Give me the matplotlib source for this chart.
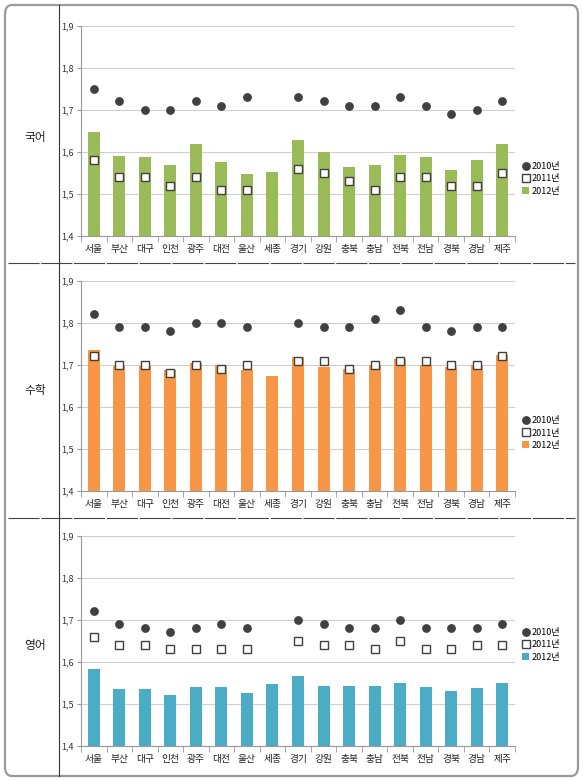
import numpy as np
import matplotlib.pyplot as plt
from matplotlib.patches import FancyBboxPatch
from matplotlib.lines import Line2D
from matplotlib.patches import Patch
from matplotlib.ticker import FuncFormatter, FixedLocator

plt.rcParams['font.family'] = ['Noto Sans CJK KR', 'DejaVu Sans']

regions = ['서울', '부산', '대구', '인천', '광주', '대전', '울산', '세종', '경기',
           '강원', '충북', '충남', '전북', '전남', '경북', '경남', '제주']
subjects = ['국어', '수학', '영어']
years = ['2010년', '2011년', '2012년']

# 세종 has no value for 2010 / 2011
kor_2010 = [1.75, 1.72, 1.70, 1.70, 1.72, 1.71, 1.73, np.nan, 1.73, 1.72, 1.71, 1.71, 1.73, 1.71, 1.69, 1.70, 1.72]
kor_2011 = [1.58, 1.54, 1.54, 1.52, 1.54, 1.51, 1.51, np.nan, 1.56, 1.55, 1.53, 1.51, 1.54, 1.54, 1.52, 1.52, 1.55]
kor_2012 = [1.647, 1.590, 1.588, 1.568, 1.618, 1.576, 1.548, 1.553, 1.628, 1.600, 1.563, 1.569, 1.592, 1.588, 1.557, 1.580, 1.618]

math_2010 = [1.82, 1.79, 1.79, 1.78, 1.80, 1.80, 1.79, np.nan, 1.80, 1.79, 1.79, 1.81, 1.83, 1.79, 1.78, 1.79, 1.79]
math_2011 = [1.72, 1.70, 1.70, 1.68, 1.70, 1.69, 1.70, np.nan, 1.71, 1.71, 1.69, 1.70, 1.71, 1.71, 1.70, 1.70, 1.72]
math_2012 = [1.735, 1.697, 1.697, 1.688, 1.704, 1.699, 1.688, 1.674, 1.718, 1.696, 1.690, 1.700, 1.714, 1.700, 1.694, 1.700, 1.724]

eng_2010 = [1.72, 1.69, 1.68, 1.67, 1.68, 1.69, 1.68, np.nan, 1.70, 1.69, 1.68, 1.68, 1.70, 1.68, 1.68, 1.68, 1.69]
eng_2011 = [1.66, 1.64, 1.64, 1.63, 1.63, 1.63, 1.63, np.nan, 1.65, 1.64, 1.64, 1.63, 1.65, 1.63, 1.63, 1.64, 1.64]
eng_2012 = [1.584, 1.536, 1.536, 1.521, 1.541, 1.541, 1.526, 1.548, 1.567, 1.542, 1.542, 1.542, 1.550, 1.541, 1.531, 1.538, 1.550]

yticks = [1.4, 1.5, 1.6, 1.7, 1.8, 1.9]

panels = [
    (kor_2010, kor_2011, kor_2012, '#9BBB59'),
    (math_2010, math_2011, math_2012, '#F79646'),
    (eng_2010, eng_2011, eng_2012, '#4BACC6'),
]

W, H = 583, 781
fig = plt.figure(figsize=(W / 100, H / 100), dpi=100)

# rounded outer frame
fig.patches.append(FancyBboxPatch((5 / W, 5 / H), 573 / W, 771 / H,
                                  boxstyle='round,pad=0,rounding_size=0.012',
                                  transform=fig.transFigure, fill=False,
                                  edgecolor='#9a9a9a', linewidth=1.6))
# label column divider
fig.add_artist(Line2D([59 / W, 59 / W], [5 / H, 776 / H], transform=fig.transFigure,
                      color='#333333', linewidth=0.8))
# panel dividers
for ypx in [263, 518]:
    fig.add_artist(Line2D([8 / W, 575 / W], [1 - ypx / H, 1 - ypx / H], transform=fig.transFigure,
                          color='#444444', linewidth=0.8, linestyle=(0, (28, 1.5))))

# pixel layout of each panel: axes top, axes bottom, subject label y, legend centre y
layout = [(25.7, 236, 137, 179), (280.7, 491, 390, 433), (535.7, 746, 645, 645)]
ax_left, ax_right = 81, 515

x = np.arange(len(regions))
comma = FuncFormatter(lambda v, p: f'{v:.1f}'.replace('.', ','))

for (s10, s11, s12, color), (top, bot, lab_y, leg_y), subj in zip(panels, layout, subjects):
    ax = fig.add_axes([ax_left / W, 1 - bot / H, (ax_right - ax_left) / W, (bot - top) / H])
    ax.bar(x, s12, width=0.47, color=color, zorder=2)
    ax.plot(x, s10, 'o', color='#404040', markersize=5.3, zorder=3)
    ax.plot(x, s11, 's', markerfacecolor='white', markeredgecolor='#404040',
            markeredgewidth=1.0, markersize=5.2, zorder=3)
    ax.set_xlim(-0.5, len(regions) - 0.5)
    ax.set_ylim(1.4, 1.9)
    ax.set_yticks(yticks)
    ax.yaxis.set_major_formatter(comma)
    ax.grid(axis='y', color='#cfcfcf', linewidth=0.8, zorder=0)
    ax.set_xticks(x)
    ax.set_xticklabels(regions, fontsize=7)
    ax.xaxis.set_minor_locator(FixedLocator(np.arange(-0.5, len(regions), 1.0)))
    ax.tick_params(axis='x', which='major', length=0, pad=6, colors='#222222')
    ax.tick_params(axis='x', which='minor', length=4, color='#999999')
    ax.tick_params(axis='y', length=3, color='#999999', labelsize=6.5, pad=2, labelcolor='#333333')
    for side in ['top', 'right']:
        ax.spines[side].set_visible(False)
    for side in ['left', 'bottom']:
        ax.spines[side].set_color('#999999')
        ax.spines[side].set_linewidth(0.8)

    fig.text(35 / W, 1 - lab_y / H, subj, ha='center', va='center', fontsize=8.5, color='#222222')

    handles = [
        Line2D([], [], marker='o', linestyle='none', color='#404040', markersize=5.3),
        Line2D([], [], marker='s', linestyle='none', markerfacecolor='white',
               markeredgecolor='#404040', markersize=5.2),
        Patch(facecolor=color),
    ]
    fig.legend(handles, years, loc='center left', bbox_to_anchor=(522 / W, 1 - leg_y / H),
               frameon=False, fontsize=6.5, handlelength=0.8, handletextpad=0.3,
               labelspacing=0.35, borderpad=0, borderaxespad=0)

fig.savefig('out.png', dpi=100)
